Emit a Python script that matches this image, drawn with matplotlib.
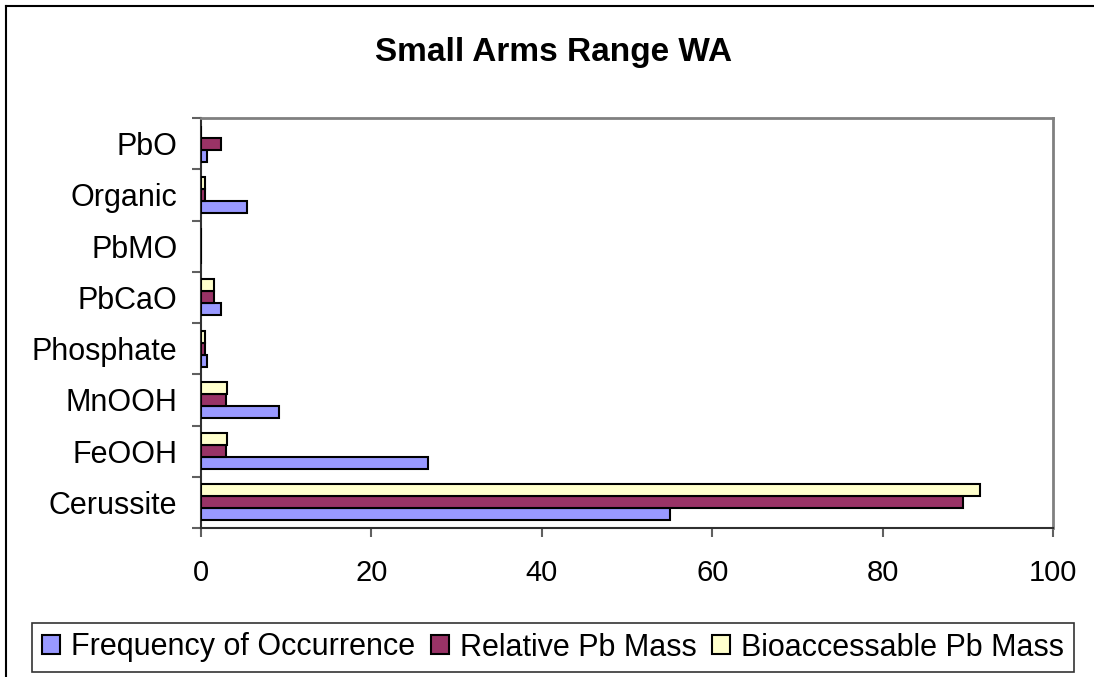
import matplotlib
matplotlib.use("Agg")
import matplotlib.pyplot as plt
from matplotlib.lines import Line2D
from matplotlib.patches import Patch
import numpy as np

plt.rcParams['font.family'] = ['Liberation Sans', 'DejaVu Sans']

# categories from bottom to top
categories = ["Cerussite", "FeOOH", "MnOOH", "Phosphate", "PbCaO", "PbMO", "Organic", "PbO"]
freq_occurrence = [55.0, 26.6, 9.2, 0.74, 2.3, 0.0, 5.35, 0.74]
relative_pb = [89.4, 2.9, 2.9, 0.5, 1.5, 0.0, 0.5, 2.3]
bioaccessable_pb = [91.4, 3.1, 3.1, 0.5, 1.5, 0.0, 0.5, 0.0]

series_names = ["Frequency of Occurrence", "Relative Pb Mass", "Bioaccessable Pb Mass"]
series_colors = ["#9999FF", "#993366", "#FFFFCC"]

W, H = 1094, 677
fig = plt.figure(figsize=(W / 100, H / 100), dpi=100)
ax = fig.add_axes([201 / W, 1 - 528 / H, (1053 - 201) / W, (528 - 118) / H])

y = np.arange(len(categories))
bar_h = 0.234
for i, (vals, col) in enumerate(zip([freq_occurrence, relative_pb, bioaccessable_pb], series_colors)):
    ax.barh(y + (i - 1) * bar_h, vals, height=bar_h, color=col,
            edgecolor="black", linewidth=1.5, zorder=3)

ax.set_xlim(0, 100)
ax.set_ylim(-0.5, len(categories) - 0.5)
ax.set_xticks(np.arange(0, 101, 20))
ax.set_yticks(y)
ax.set_yticklabels(categories)
ax.set_yticks(np.arange(-0.5, len(categories), 1), minor=True)
ax.tick_params(axis='y', which='major', length=0, pad=17, labelsize=22)
ax.tick_params(axis='y', which='minor', length=6.5, width=1.5, color='#606060')
ax.tick_params(axis='x', which='major', length=6.5, width=1.5, color='#606060',
               pad=16, labelsize=21)

for s in ['left', 'bottom']:
    ax.spines[s].set_color('#303030')
    ax.spines[s].set_linewidth(1.5)
for s in ['top', 'right']:
    ax.spines[s].set_color('#808080')
    ax.spines[s].set_linewidth(2)

fig.text(554 / W, 1 - 52 / H, "Small Arms Range WA", ha='center', va='center',
         fontsize=24, fontweight='bold')

handles = [Patch(facecolor=c, edgecolor='black', linewidth=1.5) for c in series_colors]
leg = fig.legend(handles, series_names, loc='center', bbox_to_anchor=(553 / W, 1 - 647.5 / H),
                 ncol=3, fontsize=22, frameon=True, fancybox=False,
                 handlelength=0.59, handleheight=0.59, handletextpad=0.36,
                 columnspacing=0.52, borderpad=0.3, borderaxespad=0)
leg.get_frame().set_edgecolor('black')
leg.get_frame().set_linewidth(1.2)

# outer chart frame (left and top edges visible)
fig.add_artist(Line2D([6 / W, 6 / W], [0, 1 - 6 / H], color='black', lw=1.5))
fig.add_artist(Line2D([6 / W, 1], [1 - 6 / H, 1 - 6 / H], color='black', lw=1.5))

fig.savefig("out.png", dpi=100)
